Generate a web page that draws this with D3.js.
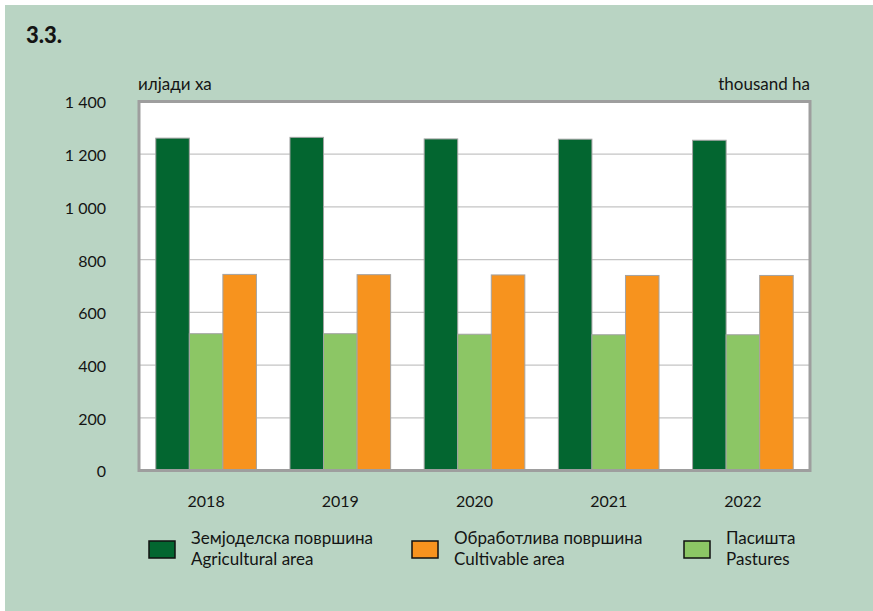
<!DOCTYPE html>
<html>
<head>
<meta charset="utf-8">
<script src="https://cdn.jsdelivr.net/npm/d3@7"></script>
<style>
  html, body { margin: 0; padding: 0; background: #ffffff; }
  svg { display: block; font-family: Lato, "Open Sans", sans-serif; }
  text { fill: #141414; }
</style>
</head>
<body>
<svg id="chart" width="873" height="611"></svg>
<script>
// Land use, thousand hectares
const years = ["2018", "2019", "2020", "2021", "2022"];
const agricultural = [1261, 1264, 1258, 1257, 1253];
const pastures     = [519, 519, 517, 515, 515];
const cultivable   = [744, 743, 742, 740, 740];
const yTicks = [0, 200, 400, 600, 800, 1000, 1200, 1400];

const seriesNames = ["agricultural", "pastures", "cultivable"];
const seriesValues = { agricultural, pastures, cultivable };
const colors = { agricultural: "#036630", pastures: "#8cc665", cultivable: "#f7931e" };

const legendItems = [
  { key: "agricultural", mk: "Земјоделска површина", en: "Agricultural area" },
  { key: "cultivable",   mk: "Обработлива површина", en: "Cultivable area" },
  { key: "pastures",     mk: "Пасишта",              en: "Pastures" }
];

const svg = d3.select("#chart");
const plotLeft = 139, plotRight = 810, plotTop = 101.5, plotBottom = 470.5;

// Panel background
svg.append("rect").attr("x", 5).attr("y", 5).attr("width", 868).attr("height", 606)
  .attr("fill", "#b9d4c3");

const x = d3.scaleBand().domain(years).range([plotLeft, plotRight])
  .paddingInner(0.25).paddingOuter(0.125);
const xs = d3.scaleBand().domain(seriesNames).range([0, x.bandwidth()]);
const y = d3.scaleLinear().domain([0, 1400]).range([plotBottom, plotTop]);

// Title and unit captions
svg.append("text").attr("x", 26).attr("y", 43)
  .style("font-weight", "900").style("font-size", "22px").text("3.3.");
svg.append("text").attr("x", 138).attr("y", 90)
  .style("font-size", "17px").text("илјади ха");
svg.append("text").attr("x", 810).attr("y", 90).attr("text-anchor", "end")
  .style("font-size", "17px").text("thousand ha");

// Plot background
svg.append("rect").attr("x", plotLeft).attr("y", plotTop)
  .attr("width", plotRight - plotLeft).attr("height", plotBottom - plotTop)
  .attr("fill", "#ffffff");

// Horizontal gridlines
svg.append("g").selectAll("line")
  .data(yTicks.filter(d => d > 0 && d < 1400))
  .join("line")
  .attr("x1", plotLeft).attr("x2", plotRight)
  .attr("y1", d => y(d)).attr("y2", d => y(d))
  .attr("stroke", "#c4c4c4").attr("stroke-width", 1.2);

// Bars
const groups = svg.append("g").selectAll("g")
  .data(years.map((yr, i) => ({ yr, i })))
  .join("g")
  .attr("transform", d => `translate(${x(d.yr)},0)`);

groups.selectAll("rect")
  .data(d => seriesNames.map(k => ({ k, v: seriesValues[k][d.i] })))
  .join("rect")
  .attr("x", d => xs(d.k))
  .attr("width", xs.bandwidth())
  .attr("y", d => y(d.v))
  .attr("height", d => y(0) - y(d.v))
  .attr("fill", d => colors[d.k])
  .attr("stroke", "#a3a3a3").attr("stroke-width", 1);

// Plot frame
svg.append("rect").attr("x", plotLeft).attr("y", plotTop)
  .attr("width", plotRight - plotLeft).attr("height", plotBottom - plotTop)
  .attr("fill", "none").attr("stroke", "#9e9e9e").attr("stroke-width", 3);

// Y axis labels
const yAxis = d3.axisLeft(y).tickValues(yTicks).tickSize(0).tickPadding(0)
  .tickFormat(d => d3.format(",")(d).replace(/,/g, " "));
const ya = svg.append("g").attr("transform", "translate(106,0)").call(yAxis);
ya.select(".domain").remove();
ya.selectAll("text").style("font-size", "16px").style("font-family", "Lato, sans-serif")
  .attr("fill", "#141414").attr("dy", "0.4em");

// X axis labels
const xAxis = d3.axisBottom(x).tickSize(0).tickPadding(0);
const xa = svg.append("g").attr("transform", "translate(0,495)").call(xAxis);
xa.select(".domain").remove();
xa.selectAll("text").style("font-size", "16px").style("font-family", "Lato, sans-serif")
  .attr("fill", "#141414").attr("dy", "0.75em");

// Legend
const legendX = [149, 412, 684];
const lg = svg.append("g").selectAll("g").data(legendItems).join("g")
  .attr("transform", (d, i) => `translate(${legendX[i]},0)`);
lg.append("rect").attr("x", 0).attr("y", 541).attr("width", 26).attr("height", 17)
  .attr("fill", d => colors[d.key]).attr("stroke", "#111").attr("stroke-width", 1.5);
lg.append("text").attr("x", 42).attr("y", 544).style("font-size", "17px").text(d => d.mk);
lg.append("text").attr("x", 42).attr("y", 565).style("font-size", "17px").text(d => d.en);
</script>
</body>
</html>
